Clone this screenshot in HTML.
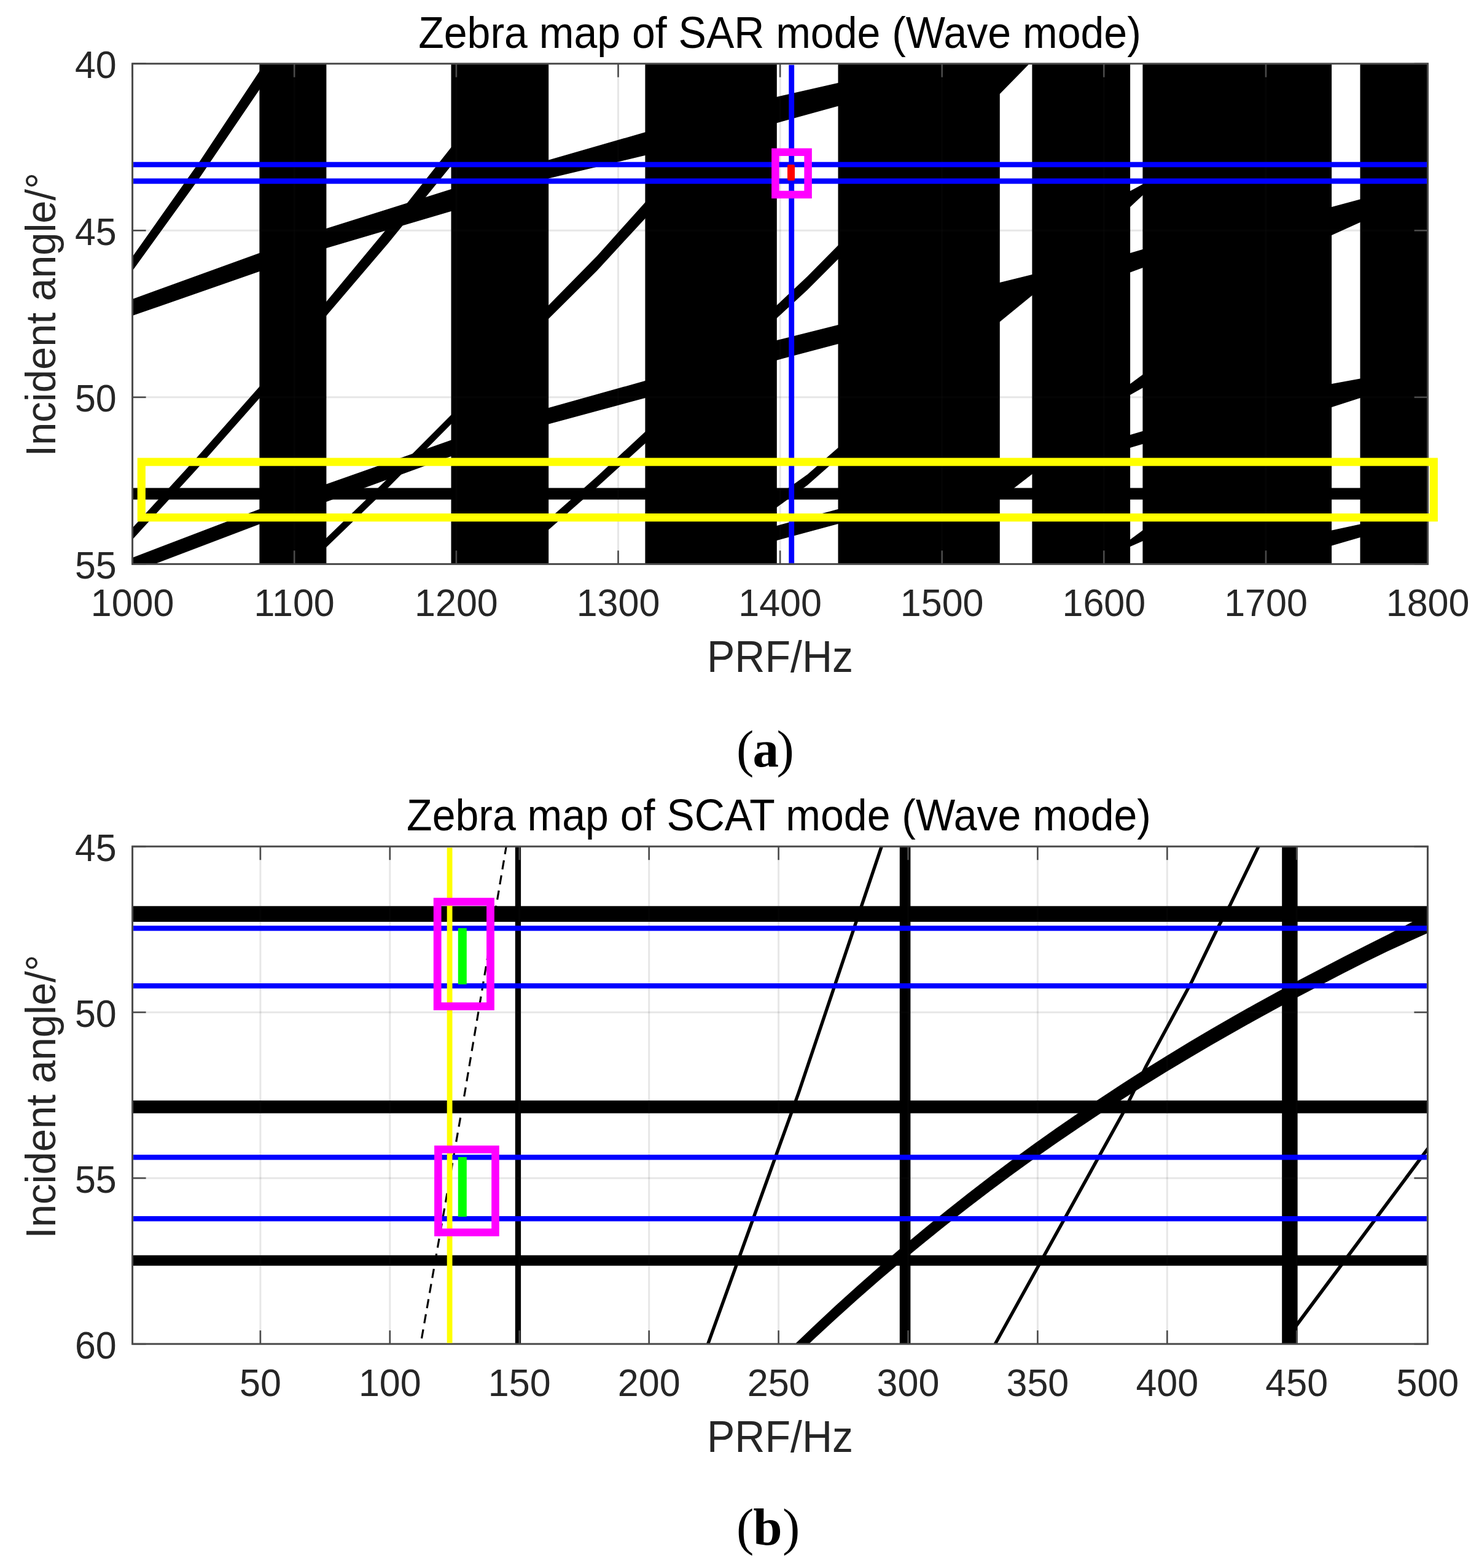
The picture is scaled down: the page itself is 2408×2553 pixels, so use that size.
<!DOCTYPE html>
<html lang="en">
<head>
<meta charset="utf-8">
<title>Zebra maps of SAR and SCAT mode (Wave mode)</title>
<style>
html,body{margin:0;padding:0;background:#fff;}
body{width:2408px;height:2553px;overflow:hidden;}
svg{display:block;}
</style>
</head>
<body>
<svg xmlns="http://www.w3.org/2000/svg" width="2408" height="2553" viewBox="0 0 2408 2553">
<rect x="0" y="0" width="2408" height="2553" fill="#fff"/>
<g id="chart-a">
<clipPath id="clipA"><rect x="215.6" y="103.7" width="2109.0" height="814.7"/></clipPath>
<g clip-path="url(#clipA)" fill="#000">
<rect x="422.4" y="101.7" width="109.0" height="818.7" fill="#000" />
<rect x="734.5" y="101.7" width="158.7" height="818.7" fill="#000" />
<rect x="1050.4" y="101.7" width="214.4" height="818.7" fill="#000" />
<rect x="1364.5" y="101.7" width="263.3" height="818.7" fill="#000" />
<rect x="1680.4" y="101.7" width="159.7" height="818.7" fill="#000" />
<rect x="1860.4" y="101.7" width="307.7" height="818.7" fill="#000" />
<rect x="2214.5" y="101.7" width="115.5" height="818.7" fill="#000" />
<rect x="213.6" y="794.5" width="2113.0" height="18.9" fill="#000" />
<polygon points="213.6,420.8 215.6,418.0 325.3,262.5 422.4,116.0 424.4,113.0 424.4,143.1 422.4,146.0 325.3,289.0 215.6,441.0 213.6,443.8" fill="#000" />
<polygon points="213.6,487.7 215.6,487.0 422.4,412.0 424.4,411.3 424.4,441.3 422.4,442.0 215.6,514.0 213.6,514.7" fill="#000" />
<polygon points="213.6,861.7 215.6,859.5 319.0,746.5 422.4,629.5 424.4,627.2 424.4,646.2 422.4,648.5 319.0,765.5 215.6,878.5 213.6,880.7" fill="#000" />
<polygon points="213.6,908.8 215.6,908.0 422.4,829.0 424.4,828.2 424.4,852.7 422.4,853.5 215.6,932.0 213.6,932.8" fill="#000" />
<polygon points="529.4,372.6 531.4,372.0 734.5,308.0 736.5,307.4 736.5,343.4 734.5,344.0 531.4,404.0 529.4,404.6" fill="#000" />
<polygon points="529.4,493.4 531.4,491.0 633.0,368.5 734.5,240.0 736.5,237.5 736.5,267.5 734.5,270.0 633.0,395.0 531.4,514.0 529.4,516.3" fill="#000" />
<polygon points="529.4,789.0 531.4,788.3 734.5,716.6 736.5,715.9 736.5,742.3 734.5,743.0 531.4,817.0 529.4,817.7" fill="#000" />
<polygon points="529.4,877.9 531.4,876.0 633.0,777.5 734.5,675.5 736.5,673.5 736.5,688.5 734.5,690.5 633.0,793.0 531.4,891.0 529.4,892.9" fill="#000" />
<polygon points="891.2,261.1 893.2,260.5 1050.4,215.3 1052.4,214.7 1052.4,252.5 1050.4,253.0 893.2,290.5 891.2,291.0" fill="#000" />
<polygon points="891.2,499.0 893.2,497.0 971.8,417.0 1050.4,329.4 1052.4,327.2 1052.4,353.5 1050.4,355.7 971.8,441.0 893.2,519.0 891.2,521.0" fill="#000" />
<polygon points="891.2,664.6 893.2,664.0 1050.4,620.0 1052.4,619.4 1052.4,647.5 1050.4,648.0 893.2,690.5 891.2,691.0" fill="#000" />
<polygon points="891.2,847.3 893.2,845.5 971.8,776.0 1050.4,703.0 1052.4,701.1 1052.4,720.2 1050.4,722.0 971.8,793.5 893.2,862.5 891.2,864.3" fill="#000" />
<polygon points="1262.8,158.2 1264.8,157.7 1364.5,135.0 1366.5,134.5 1366.5,172.1 1364.5,172.7 1264.8,200.3 1262.8,200.9" fill="#000" />
<polygon points="1262.8,498.9 1264.8,497.0 1314.6,450.0 1364.5,399.5 1366.5,397.5 1366.5,420.0 1364.5,422.0 1314.6,472.0 1264.8,518.0 1262.8,519.8" fill="#000" />
<polygon points="1262.8,554.5 1264.8,554.0 1364.5,529.0 1366.5,528.5 1366.5,559.5 1364.5,560.0 1264.8,586.5 1262.8,587.0" fill="#000" />
<polygon points="1262.8,809.4 1264.8,808.0 1314.6,772.5 1364.5,729.0 1366.5,727.3 1366.5,744.2 1364.5,746.0 1314.6,790.0 1264.8,826.0 1262.8,827.4" fill="#000" />
<polygon points="1262.8,856.5 1264.8,856.0 1364.5,829.0 1366.5,828.5 1366.5,852.5 1364.5,853.0 1264.8,880.0 1262.8,880.5" fill="#000" />
<polygon points="1838.1,312.1 1840.1,311.0 1860.4,300.0 1862.4,298.9 1862.4,316.1 1860.4,318.0 1840.1,337.0 1838.1,338.9" fill="#000" />
<polygon points="1838.1,412.6 1840.1,412.0 1860.4,406.0 1862.4,405.4 1862.4,435.3 1860.4,436.0 1840.1,443.5 1838.1,444.2" fill="#000" />
<polygon points="1838.1,626.5 1840.1,625.0 1860.4,610.0 1862.4,608.5 1862.4,630.5 1860.4,631.6 1840.1,643.0 1838.1,644.1" fill="#000" />
<polygon points="1838.1,708.6 1840.1,708.0 1860.4,702.0 1862.4,701.4 1862.4,722.4 1860.4,723.0 1840.1,729.0 1838.1,729.6" fill="#000" />
<polygon points="1838.1,880.0 1840.1,878.5 1860.4,863.5 1862.4,862.0 1862.4,880.1 1860.4,881.0 1840.1,890.0 1838.1,890.9" fill="#000" />
<polygon points="2166.1,337.5 2168.1,337.0 2214.5,324.4 2216.5,323.9 2216.5,361.1 2214.5,362.0 2168.1,383.0 2166.1,383.9" fill="#000" />
<polygon points="2166.1,625.4 2168.1,625.0 2214.5,616.6 2216.5,616.2 2216.5,647.4 2214.5,648.0 2168.1,663.0 2166.1,663.6" fill="#000" />
<polygon points="2166.1,863.9 2168.1,863.5 2214.5,853.5 2216.5,853.1 2216.5,874.4 2214.5,875.0 2168.1,888.6 2166.1,889.2" fill="#000" />
<polygon points="1625.8,100.0 1676.0,100.0 1676.0,103.7 1627.8,153.0 1625.8,153.0" fill="#000" />
<polygon points="1625.8,460.5 1627.8,460.0 1680.4,447.0 1682.4,446.5 1682.4,480.0 1680.4,481.0 1627.8,524.0 1625.8,525.0" fill="#000" />
<polygon points="1625.8,747.0 1682.4,747.0 1682.4,771.0 1680.4,772.0 1650.0,795.5 1625.8,795.5" fill="#000" />
</g>
<g id="grid-a">
<line x1="479.2" y1="103.7" x2="479.2" y2="918.4" stroke="rgba(38,38,38,0.11)" stroke-width="3.0" />
<line x1="742.9" y1="103.7" x2="742.9" y2="918.4" stroke="rgba(38,38,38,0.11)" stroke-width="3.0" />
<line x1="1006.5" y1="103.7" x2="1006.5" y2="918.4" stroke="rgba(38,38,38,0.11)" stroke-width="3.0" />
<line x1="1270.1" y1="103.7" x2="1270.1" y2="918.4" stroke="rgba(38,38,38,0.11)" stroke-width="3.0" />
<line x1="1533.7" y1="103.7" x2="1533.7" y2="918.4" stroke="rgba(38,38,38,0.11)" stroke-width="3.0" />
<line x1="1797.3" y1="103.7" x2="1797.3" y2="918.4" stroke="rgba(38,38,38,0.11)" stroke-width="3.0" />
<line x1="2061.0" y1="103.7" x2="2061.0" y2="918.4" stroke="rgba(38,38,38,0.11)" stroke-width="3.0" />
<line x1="215.6" y1="375.3" x2="2324.6" y2="375.3" stroke="rgba(38,38,38,0.11)" stroke-width="3.0" />
<line x1="215.6" y1="646.8" x2="2324.6" y2="646.8" stroke="rgba(38,38,38,0.11)" stroke-width="3.0" />
</g>
<line x1="215.6" y1="918.4" x2="215.6" y2="896.4" stroke="#4a4a4a" stroke-width="2.6" />
<line x1="215.6" y1="103.7" x2="215.6" y2="125.7" stroke="#4a4a4a" stroke-width="2.6" />
<line x1="479.2" y1="918.4" x2="479.2" y2="896.4" stroke="#4a4a4a" stroke-width="2.6" />
<line x1="479.2" y1="103.7" x2="479.2" y2="125.7" stroke="#4a4a4a" stroke-width="2.6" />
<line x1="742.9" y1="918.4" x2="742.9" y2="896.4" stroke="#4a4a4a" stroke-width="2.6" />
<line x1="742.9" y1="103.7" x2="742.9" y2="125.7" stroke="#4a4a4a" stroke-width="2.6" />
<line x1="1006.5" y1="918.4" x2="1006.5" y2="896.4" stroke="#4a4a4a" stroke-width="2.6" />
<line x1="1006.5" y1="103.7" x2="1006.5" y2="125.7" stroke="#4a4a4a" stroke-width="2.6" />
<line x1="1270.1" y1="918.4" x2="1270.1" y2="896.4" stroke="#4a4a4a" stroke-width="2.6" />
<line x1="1270.1" y1="103.7" x2="1270.1" y2="125.7" stroke="#4a4a4a" stroke-width="2.6" />
<line x1="1533.7" y1="918.4" x2="1533.7" y2="896.4" stroke="#4a4a4a" stroke-width="2.6" />
<line x1="1533.7" y1="103.7" x2="1533.7" y2="125.7" stroke="#4a4a4a" stroke-width="2.6" />
<line x1="1797.3" y1="918.4" x2="1797.3" y2="896.4" stroke="#4a4a4a" stroke-width="2.6" />
<line x1="1797.3" y1="103.7" x2="1797.3" y2="125.7" stroke="#4a4a4a" stroke-width="2.6" />
<line x1="2061.0" y1="918.4" x2="2061.0" y2="896.4" stroke="#4a4a4a" stroke-width="2.6" />
<line x1="2061.0" y1="103.7" x2="2061.0" y2="125.7" stroke="#4a4a4a" stroke-width="2.6" />
<line x1="2324.6" y1="918.4" x2="2324.6" y2="896.4" stroke="#4a4a4a" stroke-width="2.6" />
<line x1="2324.6" y1="103.7" x2="2324.6" y2="125.7" stroke="#4a4a4a" stroke-width="2.6" />
<line x1="215.6" y1="103.7" x2="237.6" y2="103.7" stroke="#4a4a4a" stroke-width="2.6" />
<line x1="2324.6" y1="103.7" x2="2302.6" y2="103.7" stroke="#4a4a4a" stroke-width="2.6" />
<line x1="215.6" y1="375.3" x2="237.6" y2="375.3" stroke="#4a4a4a" stroke-width="2.6" />
<line x1="2324.6" y1="375.3" x2="2302.6" y2="375.3" stroke="#4a4a4a" stroke-width="2.6" />
<line x1="215.6" y1="646.8" x2="237.6" y2="646.8" stroke="#4a4a4a" stroke-width="2.6" />
<line x1="2324.6" y1="646.8" x2="2302.6" y2="646.8" stroke="#4a4a4a" stroke-width="2.6" />
<line x1="215.6" y1="918.4" x2="237.6" y2="918.4" stroke="#4a4a4a" stroke-width="2.6" />
<line x1="2324.6" y1="918.4" x2="2302.6" y2="918.4" stroke="#4a4a4a" stroke-width="2.6" />
<rect x="215.6" y="103.7" width="2109.0" height="814.7" fill="none" stroke="#4a4a4a" stroke-width="3.0"/>
<rect x="217.1" y="263.7" width="2106.0" height="8.6" fill="#0000ff" />
<rect x="217.1" y="290.5" width="2106.0" height="8.8" fill="#0000ff" />
<rect x="1284.3" y="105.7" width="8.8" height="811.2" fill="#0000ff" />
<rect x="230.3" y="752.1" width="2104.0" height="90.5" fill="none" stroke="#ffff00" stroke-width="13.2"/>
<rect x="1262.4" y="247.7" width="53.2" height="69.2" fill="none" stroke="#ff00ff" stroke-width="12.5"/>
<rect x="1282" y="268" width="12" height="26" rx="2" fill="#ff0000"/>
<text transform="translate(1269.5,78.4) scale(1,1.050)" font-family="'Liberation Sans', Arial, Helvetica, sans-serif" font-size="68.0" text-anchor="middle" fill="#000">Zebra map of SAR mode (Wave mode)</text>
<text transform="translate(189.8,127.1) scale(1,1.035)" font-family="'Liberation Sans', Arial, Helvetica, sans-serif" font-size="61.0" text-anchor="end" fill="#262626">40</text>
<text transform="translate(189.8,398.7) scale(1,1.035)" font-family="'Liberation Sans', Arial, Helvetica, sans-serif" font-size="61.0" text-anchor="end" fill="#262626">45</text>
<text transform="translate(189.8,670.2) scale(1,1.035)" font-family="'Liberation Sans', Arial, Helvetica, sans-serif" font-size="61.0" text-anchor="end" fill="#262626">50</text>
<text transform="translate(189.8,941.8) scale(1,1.035)" font-family="'Liberation Sans', Arial, Helvetica, sans-serif" font-size="61.0" text-anchor="end" fill="#262626">55</text>
<text transform="translate(215.6,1002.5) scale(1,1.035)" font-family="'Liberation Sans', Arial, Helvetica, sans-serif" font-size="61.0" text-anchor="middle" fill="#262626">1000</text>
<text transform="translate(479.2,1002.5) scale(1,1.035)" font-family="'Liberation Sans', Arial, Helvetica, sans-serif" font-size="61.0" text-anchor="middle" fill="#262626">1100</text>
<text transform="translate(742.9,1002.5) scale(1,1.035)" font-family="'Liberation Sans', Arial, Helvetica, sans-serif" font-size="61.0" text-anchor="middle" fill="#262626">1200</text>
<text transform="translate(1006.5,1002.5) scale(1,1.035)" font-family="'Liberation Sans', Arial, Helvetica, sans-serif" font-size="61.0" text-anchor="middle" fill="#262626">1300</text>
<text transform="translate(1270.1,1002.5) scale(1,1.035)" font-family="'Liberation Sans', Arial, Helvetica, sans-serif" font-size="61.0" text-anchor="middle" fill="#262626">1400</text>
<text transform="translate(1533.7,1002.5) scale(1,1.035)" font-family="'Liberation Sans', Arial, Helvetica, sans-serif" font-size="61.0" text-anchor="middle" fill="#262626">1500</text>
<text transform="translate(1797.3,1002.5) scale(1,1.035)" font-family="'Liberation Sans', Arial, Helvetica, sans-serif" font-size="61.0" text-anchor="middle" fill="#262626">1600</text>
<text transform="translate(2061.0,1002.5) scale(1,1.035)" font-family="'Liberation Sans', Arial, Helvetica, sans-serif" font-size="61.0" text-anchor="middle" fill="#262626">1700</text>
<text transform="translate(2324.6,1002.5) scale(1,1.035)" font-family="'Liberation Sans', Arial, Helvetica, sans-serif" font-size="61.0" text-anchor="middle" fill="#262626">1800</text>
<text transform="translate(1270.0,1093.5) scale(1,1.050)" font-family="'Liberation Sans', Arial, Helvetica, sans-serif" font-size="68.0" text-anchor="middle" fill="#262626">PRF/Hz</text>
<text transform="translate(90.3,512.3) rotate(-90) scale(1,1.02)" font-family="'Liberation Sans', Arial, Helvetica, sans-serif" font-size="67.0" text-anchor="middle" fill="#262626">Incident angle/°</text>
</g>
<text y="1248.3" font-family="'Liberation Serif', 'Times New Roman', serif" font-size="85" fill="#000"><tspan x="1199.0">(</tspan><tspan x="1225.5" font-weight="bold">a</tspan><tspan x="1264.4">)</tspan></text>
<g id="chart-b">
<clipPath id="clipB"><rect x="215.6" y="1378.2" width="2108.8" height="810.0"/></clipPath>
<g clip-path="url(#clipB)" fill="#000">
<rect x="213.6" y="1475.3" width="2112.8" height="25.6" fill="#000" />
<rect x="213.6" y="1791.8" width="2112.8" height="20.8" fill="#000" />
<rect x="213.6" y="2043.8" width="2112.8" height="17.0" fill="#000" />
<rect x="838.8" y="1376.2" width="9.3" height="814.0" fill="#000" />
<rect x="1464.8" y="1376.2" width="17.6" height="814.0" fill="#000" />
<rect x="2087.2" y="1376.2" width="25.4" height="814.0" fill="#000" />
<polyline points="824.6,1376.0 756.6,1780.0 684.6,2190.0" fill="none" stroke="#000" stroke-width="3.2" stroke-dasharray="15 10"/>
<polyline points="1436.0,1376.0 1300.0,1780.0 1152.0,2190.0" fill="none" stroke="#000" stroke-width="5.4" />
<polyline points="2050.0,1376.0 2003.2,1472.8 1983.0,1510.0 1940.5,1598.0 1866.0,1736.0 1828.3,1812.6 1619.3,2190.0" fill="none" stroke="#000" stroke-width="5.4" />
<polyline points="2100.0,2172.4 2112.2,2156.0 2328.0,1865.8" fill="none" stroke="#000" stroke-width="5.6" />
<polygon points="1288.0,2194.4 1324.0,2159.9 1360.0,2126.3 1396.0,2093.7 1432.0,2061.9 1468.0,2031.0 1504.0,2000.9 1540.0,1971.7 1576.0,1943.2 1612.0,1915.5 1648.0,1888.6 1684.0,1862.3 1720.0,1836.8 1756.0,1811.9 1792.0,1787.7 1828.0,1764.1 1864.0,1741.1 1900.0,1718.7 1936.0,1696.8 1972.0,1675.5 2008.0,1654.7 2044.0,1634.4 2080.0,1614.7 2116.0,1595.3 2152.0,1576.4 2188.0,1557.8 2224.0,1539.6 2260.0,1521.4 2296.0,1502.7 2332.0,1484.3 2332.0,1515.8 2296.0,1532.0 2260.0,1548.5 2224.0,1566.1 2188.0,1584.3 2152.0,1602.9 2116.0,1621.8 2080.0,1641.2 2044.0,1660.9 2008.0,1681.2 1972.0,1701.8 1936.0,1722.9 1900.0,1744.5 1864.0,1766.7 1828.0,1789.4 1792.0,1812.7 1756.0,1836.7 1720.0,1861.3 1684.0,1886.6 1648.0,1912.5 1612.0,1939.2 1576.0,1966.7 1540.0,1994.9 1504.0,2023.9 1468.0,2053.7 1432.0,2084.3 1396.0,2115.8 1360.0,2148.2 1324.0,2181.6 1288.0,2215.9" fill="#000" />
</g>
<g id="grid-b">
<line x1="423.9" y1="1378.2" x2="423.9" y2="2188.2" stroke="rgba(38,38,38,0.11)" stroke-width="3.0" />
<line x1="634.8" y1="1378.2" x2="634.8" y2="2188.2" stroke="rgba(38,38,38,0.11)" stroke-width="3.0" />
<line x1="845.7" y1="1378.2" x2="845.7" y2="2188.2" stroke="rgba(38,38,38,0.11)" stroke-width="3.0" />
<line x1="1056.7" y1="1378.2" x2="1056.7" y2="2188.2" stroke="rgba(38,38,38,0.11)" stroke-width="3.0" />
<line x1="1267.6" y1="1378.2" x2="1267.6" y2="2188.2" stroke="rgba(38,38,38,0.11)" stroke-width="3.0" />
<line x1="1478.5" y1="1378.2" x2="1478.5" y2="2188.2" stroke="rgba(38,38,38,0.11)" stroke-width="3.0" />
<line x1="1689.4" y1="1378.2" x2="1689.4" y2="2188.2" stroke="rgba(38,38,38,0.11)" stroke-width="3.0" />
<line x1="1900.3" y1="1378.2" x2="1900.3" y2="2188.2" stroke="rgba(38,38,38,0.11)" stroke-width="3.0" />
<line x1="2111.2" y1="1378.2" x2="2111.2" y2="2188.2" stroke="rgba(38,38,38,0.11)" stroke-width="3.0" />
<line x1="215.6" y1="1648.2" x2="2324.4" y2="1648.2" stroke="rgba(38,38,38,0.11)" stroke-width="3.0" />
<line x1="215.6" y1="1918.2" x2="2324.4" y2="1918.2" stroke="rgba(38,38,38,0.11)" stroke-width="3.0" />
</g>
<line x1="423.9" y1="2188.2" x2="423.9" y2="2166.2" stroke="#4a4a4a" stroke-width="2.6" />
<line x1="423.9" y1="1378.2" x2="423.9" y2="1400.2" stroke="#4a4a4a" stroke-width="2.6" />
<line x1="634.8" y1="2188.2" x2="634.8" y2="2166.2" stroke="#4a4a4a" stroke-width="2.6" />
<line x1="634.8" y1="1378.2" x2="634.8" y2="1400.2" stroke="#4a4a4a" stroke-width="2.6" />
<line x1="845.7" y1="2188.2" x2="845.7" y2="2166.2" stroke="#4a4a4a" stroke-width="2.6" />
<line x1="845.7" y1="1378.2" x2="845.7" y2="1400.2" stroke="#4a4a4a" stroke-width="2.6" />
<line x1="1056.7" y1="2188.2" x2="1056.7" y2="2166.2" stroke="#4a4a4a" stroke-width="2.6" />
<line x1="1056.7" y1="1378.2" x2="1056.7" y2="1400.2" stroke="#4a4a4a" stroke-width="2.6" />
<line x1="1267.6" y1="2188.2" x2="1267.6" y2="2166.2" stroke="#4a4a4a" stroke-width="2.6" />
<line x1="1267.6" y1="1378.2" x2="1267.6" y2="1400.2" stroke="#4a4a4a" stroke-width="2.6" />
<line x1="1478.5" y1="2188.2" x2="1478.5" y2="2166.2" stroke="#4a4a4a" stroke-width="2.6" />
<line x1="1478.5" y1="1378.2" x2="1478.5" y2="1400.2" stroke="#4a4a4a" stroke-width="2.6" />
<line x1="1689.4" y1="2188.2" x2="1689.4" y2="2166.2" stroke="#4a4a4a" stroke-width="2.6" />
<line x1="1689.4" y1="1378.2" x2="1689.4" y2="1400.2" stroke="#4a4a4a" stroke-width="2.6" />
<line x1="1900.3" y1="2188.2" x2="1900.3" y2="2166.2" stroke="#4a4a4a" stroke-width="2.6" />
<line x1="1900.3" y1="1378.2" x2="1900.3" y2="1400.2" stroke="#4a4a4a" stroke-width="2.6" />
<line x1="2111.2" y1="2188.2" x2="2111.2" y2="2166.2" stroke="#4a4a4a" stroke-width="2.6" />
<line x1="2111.2" y1="1378.2" x2="2111.2" y2="1400.2" stroke="#4a4a4a" stroke-width="2.6" />
<line x1="2324.4" y1="2188.2" x2="2324.4" y2="2166.2" stroke="#4a4a4a" stroke-width="2.6" />
<line x1="2324.4" y1="1378.2" x2="2324.4" y2="1400.2" stroke="#4a4a4a" stroke-width="2.6" />
<line x1="215.6" y1="1378.2" x2="237.6" y2="1378.2" stroke="#4a4a4a" stroke-width="2.6" />
<line x1="2324.4" y1="1378.2" x2="2302.4" y2="1378.2" stroke="#4a4a4a" stroke-width="2.6" />
<line x1="215.6" y1="1648.2" x2="237.6" y2="1648.2" stroke="#4a4a4a" stroke-width="2.6" />
<line x1="2324.4" y1="1648.2" x2="2302.4" y2="1648.2" stroke="#4a4a4a" stroke-width="2.6" />
<line x1="215.6" y1="1918.2" x2="237.6" y2="1918.2" stroke="#4a4a4a" stroke-width="2.6" />
<line x1="2324.4" y1="1918.2" x2="2302.4" y2="1918.2" stroke="#4a4a4a" stroke-width="2.6" />
<line x1="215.6" y1="2188.2" x2="237.6" y2="2188.2" stroke="#4a4a4a" stroke-width="2.6" />
<line x1="2324.4" y1="2188.2" x2="2302.4" y2="2188.2" stroke="#4a4a4a" stroke-width="2.6" />
<rect x="215.6" y="1378.2" width="2108.8" height="810.0" fill="none" stroke="#4a4a4a" stroke-width="3.0"/>
<rect x="217.1" y="1507.2" width="2105.8" height="8.4" fill="#0000ff" />
<rect x="217.1" y="1601.0" width="2105.8" height="8.4" fill="#0000ff" />
<rect x="217.1" y="1880.1" width="2105.8" height="8.4" fill="#0000ff" />
<rect x="217.1" y="1980.1" width="2105.8" height="8.4" fill="#0000ff" />
<rect x="727.7" y="1380.2" width="8.8" height="806.5" fill="#ffff00" />
<rect x="712.2" y="1468.2" width="86.3" height="170.3" fill="none" stroke="#ff00ff" stroke-width="12.8"/>
<rect x="713.4" y="1871.5" width="93.1" height="135.1" fill="none" stroke="#ff00ff" stroke-width="12.6"/>
<rect x="745.8" y="1511.2" width="14.0" height="91.5" fill="#00ff00" />
<rect x="745.8" y="1884.0" width="14.0" height="97.0" fill="#00ff00" />
<text transform="translate(1268.0,1352.3) scale(1,1.050)" font-family="'Liberation Sans', Arial, Helvetica, sans-serif" font-size="68.0" text-anchor="middle" fill="#000">Zebra map of SCAT mode (Wave mode)</text>
<text transform="translate(189.8,1401.6) scale(1,1.035)" font-family="'Liberation Sans', Arial, Helvetica, sans-serif" font-size="61.0" text-anchor="end" fill="#262626">45</text>
<text transform="translate(189.8,1671.6) scale(1,1.035)" font-family="'Liberation Sans', Arial, Helvetica, sans-serif" font-size="61.0" text-anchor="end" fill="#262626">50</text>
<text transform="translate(189.8,1941.6) scale(1,1.035)" font-family="'Liberation Sans', Arial, Helvetica, sans-serif" font-size="61.0" text-anchor="end" fill="#262626">55</text>
<text transform="translate(189.8,2211.6) scale(1,1.035)" font-family="'Liberation Sans', Arial, Helvetica, sans-serif" font-size="61.0" text-anchor="end" fill="#262626">60</text>
<text transform="translate(423.9,2272.5) scale(1,1.035)" font-family="'Liberation Sans', Arial, Helvetica, sans-serif" font-size="61.0" text-anchor="middle" fill="#262626">50</text>
<text transform="translate(634.8,2272.5) scale(1,1.035)" font-family="'Liberation Sans', Arial, Helvetica, sans-serif" font-size="61.0" text-anchor="middle" fill="#262626">100</text>
<text transform="translate(845.7,2272.5) scale(1,1.035)" font-family="'Liberation Sans', Arial, Helvetica, sans-serif" font-size="61.0" text-anchor="middle" fill="#262626">150</text>
<text transform="translate(1056.7,2272.5) scale(1,1.035)" font-family="'Liberation Sans', Arial, Helvetica, sans-serif" font-size="61.0" text-anchor="middle" fill="#262626">200</text>
<text transform="translate(1267.6,2272.5) scale(1,1.035)" font-family="'Liberation Sans', Arial, Helvetica, sans-serif" font-size="61.0" text-anchor="middle" fill="#262626">250</text>
<text transform="translate(1478.5,2272.5) scale(1,1.035)" font-family="'Liberation Sans', Arial, Helvetica, sans-serif" font-size="61.0" text-anchor="middle" fill="#262626">300</text>
<text transform="translate(1689.4,2272.5) scale(1,1.035)" font-family="'Liberation Sans', Arial, Helvetica, sans-serif" font-size="61.0" text-anchor="middle" fill="#262626">350</text>
<text transform="translate(1900.3,2272.5) scale(1,1.035)" font-family="'Liberation Sans', Arial, Helvetica, sans-serif" font-size="61.0" text-anchor="middle" fill="#262626">400</text>
<text transform="translate(2111.2,2272.5) scale(1,1.035)" font-family="'Liberation Sans', Arial, Helvetica, sans-serif" font-size="61.0" text-anchor="middle" fill="#262626">450</text>
<text transform="translate(2324.4,2272.5) scale(1,1.035)" font-family="'Liberation Sans', Arial, Helvetica, sans-serif" font-size="61.0" text-anchor="middle" fill="#262626">500</text>
<text transform="translate(1270.0,2363.5) scale(1,1.050)" font-family="'Liberation Sans', Arial, Helvetica, sans-serif" font-size="68.0" text-anchor="middle" fill="#262626">PRF/Hz</text>
<text transform="translate(90.3,1785.6) rotate(-90) scale(1,1.02)" font-family="'Liberation Sans', Arial, Helvetica, sans-serif" font-size="67.0" text-anchor="middle" fill="#262626">Incident angle/°</text>
</g>
<text y="2514.8" font-family="'Liberation Serif', 'Times New Roman', serif" font-size="85" fill="#000"><tspan x="1199.1">(</tspan><tspan x="1226.2" font-weight="bold">b</tspan><tspan x="1274.0">)</tspan></text>
</svg>
</body>
</html>
